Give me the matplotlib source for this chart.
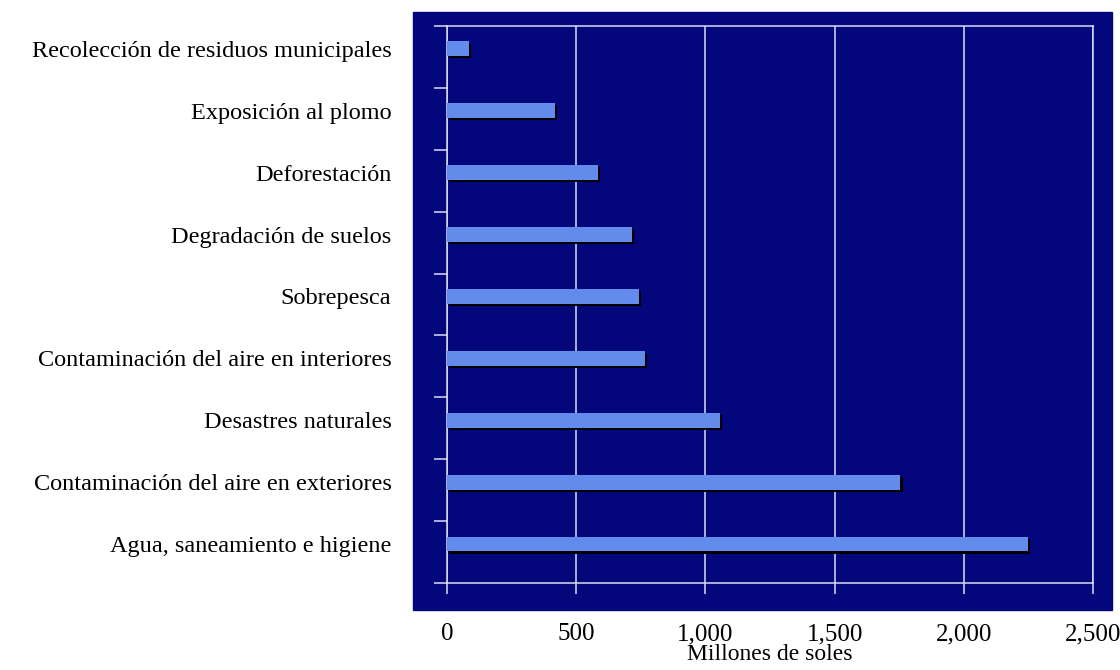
import numpy as np
import matplotlib
matplotlib.use("Agg")
import matplotlib.pyplot as plt
import matplotlib.patheffects as pe
from matplotlib.patches import Rectangle

# datos (millones de soles)
categorias = [
    "Recolección de residuos municipales",
    "Exposición al plomo",
    "Deforestación",
    "Degradación de suelos",
    "Sobrepesca",
    "Contaminación del aire en interiores",
    "Desastres naturales",
    "Contaminación del aire en exteriores",
    "Agua, saneamiento e higiene",
]
valores = [85, 417, 584, 715, 742, 765, 1055, 1755, 2250]
xticks = [0, 500, 1000, 1500, 2000, 2500]
xtick_labels = ["0", "500", "1,000", "1,500", "2,000", "2,500"]

navy = "#04067c"
barra = "#628bec"
linea = "#dadef0"

plt.rcParams["font.family"] = ["Liberation Serif", "DejaVu Serif"]

W, H = 1120, 670
fig = plt.figure(figsize=(W / 100, H / 100), dpi=100)
# panel azul detras de los ejes
fig.patches.append(Rectangle((413 / W, 1 - 610 / H), (1112 - 413) / W, (610 - 12) / H,
                             transform=fig.transFigure, color=navy, zorder=-5))
ax = fig.add_axes([447 / W, 1 - 583 / H, (1093 - 447) / W, (583 - 26) / H])
ax.set_facecolor(navy)

pos = np.arange(len(categorias)) - 0.13
ax.barh(pos, valores, height=0.24, color=barra, zorder=3,
        path_effects=[pe.SimplePatchShadow(offset=(1.5, -1.5), shadow_rgbFace="black", alpha=1.0),
                      pe.Normal()])

ax.set_xlim(0, 2500)
ax.set_ylim(len(categorias) - 0.5, -0.5)

ax.set_yticks(pos)
ax.set_yticklabels(categorias, fontsize=17.5)
ax.tick_params(axis="y", which="major", length=0, pad=40)
ax.set_yticks(np.arange(len(categorias) + 1) - 0.5, minor=True)
ax.tick_params(axis="y", which="minor", length=9.5, width=1.1, color=linea, direction="out")

ax.set_xticks(xticks)
ax.set_xticklabels(xtick_labels, fontsize=18)
ax.tick_params(axis="x", length=8, width=1.1, color=linea, direction="out", pad=21)

ax.xaxis.grid(True, color=linea, lw=1.1, zorder=1)
ax.set_axisbelow(True)
for s in ax.spines.values():
    s.set_color(linea)
    s.set_linewidth(1.1)

ax.set_xlabel("Millones de soles", fontsize=17, labelpad=-1)

fig.savefig("out.png", dpi=100)
